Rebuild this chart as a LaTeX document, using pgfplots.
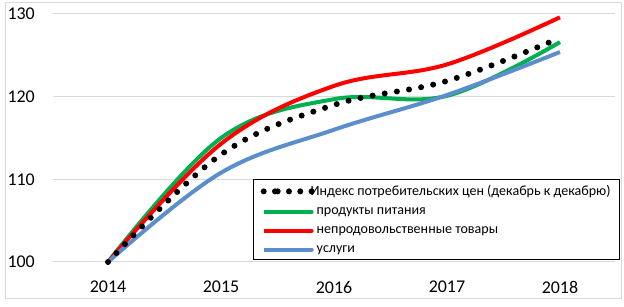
\documentclass[border=0pt]{standalone}
\usepackage{fontspec}
\setmainfont{Carlito}
\usepackage{pgfplots}
\pgfplotsset{compat=1.18}
\definecolor{gridc}{RGB}{217,217,217}
\definecolor{cgreen}{RGB}{0,176,80}
\definecolor{cred}{RGB}{255,0,0}
\definecolor{cblue}{RGB}{91,142,204}
\begin{document}
\begin{tikzpicture}
\useasboundingbox (0,0) rectangle (624bp,307bp);
\draw[gridc, line width=1bp] (5bp,8bp) rectangle (621bp,304bp);
\begin{axis}[
  at={(53bp,45bp)}, anchor=south west,
  scale only axis, width=562bp, height=248bp,
  xmin=2013.513, xmax=2018.487, ymin=100, ymax=130,
  xtick={2014,2015,2016,2017,2018},
  ytick={100,110,120,130},
  /pgf/number format/1000 sep={},
  /pgf/number format/assume math mode=true,
  ymajorgrids, grid style={gridc, line width=1bp},
  axis line style={draw=none},
  tick style={draw=none},
  ticklabel style={font=\fontsize{18}{20}\selectfont},
  yticklabel style={anchor=east, inner sep=0pt, xshift=-18bp},
  xticklabel style={anchor=north, inner sep=0pt, yshift=-19bp},
  legend style={at={(axis description cs:1.0089,0.3347)}, anchor=north east,
    draw=black, line width=1bp, font=\fontsize{14.1}{16}\selectfont,
    row sep=6.5bp, inner xsep=7bp, inner ysep=4bp},
  legend cell align=left,
  legend image code/.code={\path (0bp,0bp) -- (14bp,0bp); \draw[#1, line cap=round] (14bp,0bp) -- (48bp,0bp);},
  clip=false,
]
\addlegendimage{black, line width=6bp, line cap=round, dash pattern=on 0bp off 11.3bp}
\addlegendentry{\hspace{-6bp}Индекс потребительских цен (декабрь к декабрю)}
\addplot[cgreen, line width=4bp, smooth, tension=0.6] coordinates {(2014,100) (2015,115.0) (2016,119.7) (2017,120.1) (2018,126.6)};
\addlegendentry{продукты питания}
\addplot[cred, line width=4bp, smooth, tension=0.6] coordinates {(2014,100) (2015,114.3) (2016,121.3) (2017,123.9) (2018,129.6)};
\addlegendentry{непродовольственные товары}
\addplot[cblue, line width=4bp, smooth, tension=0.6] coordinates {(2014,100) (2015,110.8) (2016,116.0) (2017,120.2) (2018,125.4)};
\addlegendentry{услуги}
\addplot[black, line width=6bp, line cap=round, dash pattern=on 0bp off 12.3bp, smooth, tension=0.6, forget plot] coordinates {(2014,100) (2015,113.0) (2016,119.0) (2017,121.9) (2018,127.1)};
\end{axis}
\end{tikzpicture}
\end{document}
